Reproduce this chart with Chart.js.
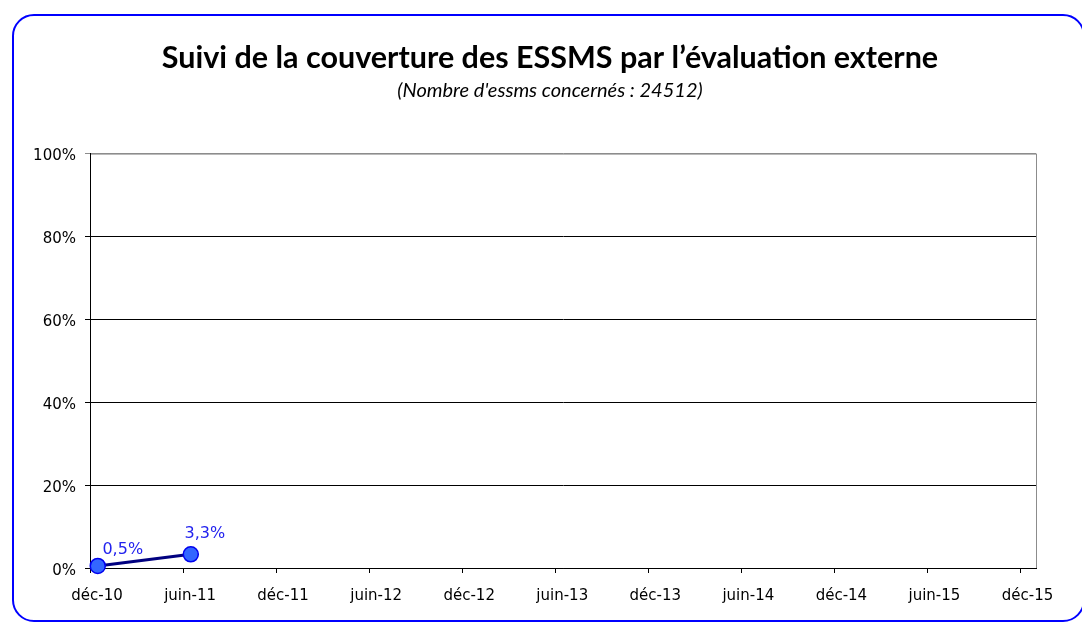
<!DOCTYPE html>
<html>
<head>
<meta charset="utf-8">
<script src="https://cdn.jsdelivr.net/npm/chart.js@4"></script>
<style>
  body { margin: 0; background: #fff; }
  #wrap { position: relative; width: 1082px; height: 623px; overflow: hidden; }
  #frame {
    position: absolute; left: 12px; top: 14px; width: 1073px; height: 608px;
    border: 2px solid #0000ff; border-radius: 22px; box-sizing: border-box; pointer-events: none;
  }
</style>
</head>
<body>
<div id="wrap">
  <canvas id="chart" width="1082" height="623"></canvas>
  <div id="frame"></div>
</div>
<script>
// tick labels every 6 months, starting déc-10
const tickLabels = ["déc-10", "juin-11", "déc-11", "juin-12", "déc-12", "juin-13", "déc-13", "juin-14", "déc-14", "juin-15", "déc-15"];
// months since déc-10 for each measure
const months = [0.5, 6.5];
const coverage = [0.5, 3.3];
const coverageText = ["0,5%", "3,3%"];
const yTicks = [0, 20, 40, 60, 80, 100];

const points = months.map((m, i) => ({ x: m, y: coverage[i] }));

// ✅ grey plot area frame
const plotFrame = {
  id: "plotFrame",
  beforeDraw(chart) {
    const { ctx, chartArea: a } = chart;
    ctx.save();
    ctx.strokeStyle = "#8c8c8c";
    ctx.lineWidth = 1;
    ctx.strokeRect(a.left + 0.5, a.top + 0.5, a.right - a.left, a.bottom - a.top);
    ctx.restore();
  }
};

// ✅ value labels near each point
const labelShift = [{ dx: 25, dy: -16 }, { dx: 14, dy: -20 }];
const valueLabels = {
  id: "valueLabels",
  afterDatasetsDraw(chart) {
    const { ctx } = chart;
    const meta = chart.getDatasetMeta(0);
    ctx.save();
    ctx.font = "16px 'DejaVu Sans'";
    ctx.fillStyle = "#2222ee";
    ctx.textAlign = "center";
    ctx.textBaseline = "middle";
    meta.data.forEach((pt, i) => {
      ctx.fillText(coverageText[i], pt.x + labelShift[i].dx, pt.y + labelShift[i].dy);
    });
    ctx.restore();
  }
};

new Chart(document.getElementById("chart"), {
  type: "line",
  data: {
    datasets: [{
      data: points,
      borderColor: "#000080",
      borderWidth: 3,
      pointRadius: 7.5,
      pointHoverRadius: 7.5,
      pointBackgroundColor: "#3366ff",
      pointBorderColor: "#0000ee",
      pointBorderWidth: 1.5,
      clip: false
    }]
  },
  options: {
    responsive: false,
    animation: false,
    layout: { padding: { top: 40, right: 0, left: 18, bottom: 0 } },
    plugins: {
      legend: { display: false },
      tooltip: { enabled: false },
      title: {
        display: true,
        text: "Suivi de la couverture des ESSMS par l’évaluation externe",
        color: "#000",
        font: { family: "Lato", size: 30.5, weight: "bold", lineHeight: 1.2 },
        padding: { top: 0, bottom: 0 }
      },
      subtitle: {
        display: true,
        text: "(Nombre d'essms concernés : 24512)",
        color: "#000",
        font: { family: "Lato", size: 20, style: "italic", lineHeight: 1.2 },
        padding: { top: 2, bottom: 51 }
      }
    },
    scales: {
      x: {
        type: "linear",
        min: 0,
        max: 61,
        afterFit: s => { s.height = 55; },
        afterBuildTicks: s => { s.ticks = tickLabels.map((_, i) => ({ value: i * 6 })); },
        border: { display: true, color: "#000", width: 1 },
        grid: { drawOnChartArea: false, drawTicks: true, tickLength: 5, color: "#000" },
        ticks: {
          autoSkip: false,
          maxRotation: 0,
          padding: 14,
          labelOffset: 7,
          color: "#000",
          font: { family: "DejaVu Sans", size: 15 },
          callback: v => tickLabels[v / 6]
        }
      },
      y: {
        min: 0,
        max: 100,
        afterFit: s => { s.width = 72; },
        afterBuildTicks: s => { s.ticks = yTicks.map(v => ({ value: v })); },
        border: { display: true, color: "#000", width: 1 },
        grid: {
          tickLength: 5,
          color: ctx => (ctx.tick && ctx.tick.value === 100 ? "#8c8c8c" : "#000"),
          lineWidth: 1
        },
        ticks: {
          padding: 9,
          labelOffset: 3,
          color: "#000",
          font: { family: "DejaVu Sans", size: 15 },
          callback: v => v + "%"
        }
      },
      // empty right axis, only keeps the right margin
      yRight: {
        position: "right",
        afterFit: s => { s.width = 46; },
        border: { display: false },
        grid: { display: false },
        ticks: { display: false }
      }
    }
  },
  plugins: [plotFrame, valueLabels]
});
</script>
</body>
</html>
